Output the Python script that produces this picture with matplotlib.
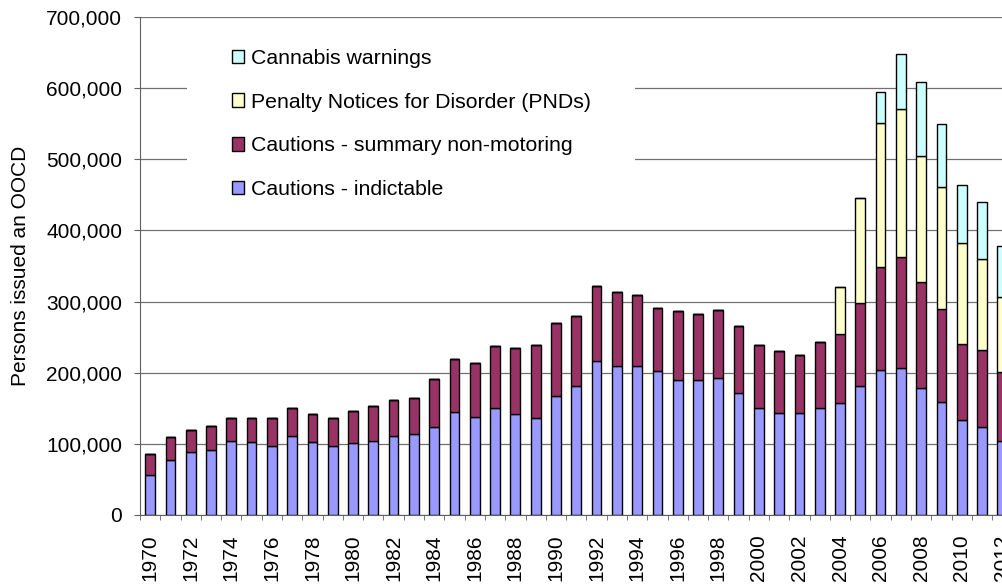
import numpy as np
from matplotlib import pyplot as plt
from matplotlib.patches import Rectangle

plt.rcParams['font.family'] = ['Liberation Sans', 'DejaVu Sans']

# data, thousands of persons
years = list(range(1970, 2013))
indictable = [56, 78, 88, 91, 104, 103, 97, 111, 103, 97,
              101, 104, 111, 114, 124, 145, 138, 150, 142, 136,
              167, 181, 216, 210, 210, 202, 190, 190, 192, 171,
              151, 144, 144, 151, 157, 182, 204, 206, 179, 159,
              133, 123, 104]
summary = [30, 31, 32, 34, 32, 33, 39, 39, 39, 39,
           45, 49, 50, 51, 67, 74, 76, 87, 93, 103,
           103, 99, 106, 103, 99, 89, 97, 92, 96, 95,
           88, 87, 81, 92, 98, 116, 145, 156, 148, 131,
           108, 109, 97]
pnds = [0] * 34 + [65, 148, 202, 208, 177, 171, 142, 128, 105]
cannabis = [0] * 36 + [43, 78, 105, 88, 81, 80, 72]

labels = ["Cannabis warnings", "Penalty Notices for Disorder (PNDs)",
          "Cautions - summary non-motoring", "Cautions - indictable"]
colors = ["#CCFFFF", "#FFFFCC", "#993366", "#9999FF"]

W, H = 1003, 585
fig = plt.figure(figsize=(W / 100, H / 100), dpi=100)
cat_w = 20.29
ax = fig.add_axes([140 / W, 70 / H, 44 * cat_w / W, 498 / H])

x = np.arange(len(years))
series = [np.array(indictable) * 1000, np.array(summary) * 1000,
          np.array(pnds) * 1000, np.array(cannabis) * 1000]
bottom = np.zeros(len(years))
handles = []
for vals, col in zip(series, colors[::-1]):
    b = ax.bar(x, vals, width=0.48, bottom=bottom, color=col,
               edgecolor="black", linewidth=1.0, zorder=2)
    handles.append(b)
    bottom = bottom + vals
handles = handles[::-1]

ax.set_xlim(-0.5, 43.5)
ax.set_ylim(0, 700000)
ax.set_yticks(np.arange(0, 700001, 100000))
ax.set_yticklabels([f"{v:,}" for v in range(0, 700001, 100000)], fontsize=15)
ax.set_axisbelow(True)
ax.yaxis.grid(True, color="#707070", linewidth=0.9, zorder=0.5)

even = [i for i, y in enumerate(years) if y % 2 == 0]
ax.set_xticks(even)
ax.set_xticklabels([str(years[i]) for i in even], rotation=90, fontsize=15)
ax.set_xticks(np.arange(-0.5, 44, 1), minor=True)
ax.tick_params(axis="x", which="major", length=0, pad=14)
ax.tick_params(axis="x", which="minor", length=3.6, color="#606060")
ax.tick_params(axis="y", length=4.3, pad=8.6, color="#606060")

for s in ["top", "right"]:
    ax.spines[s].set_visible(False)
for s in ["left", "bottom"]:
    ax.spines[s].set_color("#606060")

ax.set_ylabel("Persons issued an OOCD", fontsize=15, va="center")
ax.yaxis.set_label_coords((21 - 140) / (44 * cat_w), 0.5)

# white box behind the legend hides the gridlines
ax.add_patch(Rectangle((187, H - 215), 448, 190, transform=None,
                       facecolor="white", edgecolor="none", zorder=1))

ax.legend(handles, labels, loc="upper left", frameon=False, fontsize=15.3,
          bbox_to_anchor=(231.7 / W, 1 - 49 / H), bbox_transform=fig.transFigure,
          borderpad=0, borderaxespad=0, handlelength=0.6, handleheight=0.6,
          handletextpad=0.33, labelspacing=1.16)

fig.savefig("out.png", dpi=100)
